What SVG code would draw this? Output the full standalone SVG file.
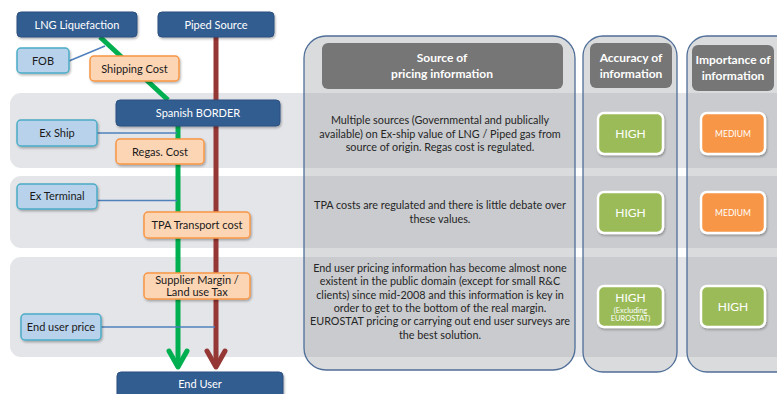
<svg xmlns="http://www.w3.org/2000/svg" width="777" height="394" viewBox="0 0 777 394">
<defs>
<filter id="sh" x="-10%" y="-20%" width="130%" height="160%">
<feDropShadow dx="1" dy="1.5" stdDeviation="1" flood-color="#000" flood-opacity="0.3"/>
</filter>
<style>
text{font-family:Lato,"Liberation Sans",sans-serif;}
.band{fill:#e3e5e9;}
.col{fill:rgb(160,162,166);fill-opacity:0.39;stroke:#4f6e98;stroke-width:1.3;}
.hdr{fill:#767676;}
.hdrt{fill:#fff;font-size:12px;font-weight:bold;text-anchor:middle;}
.dark{fill:#325d91;stroke:#2a5080;stroke-width:1;filter:url(#sh);}
.lb{fill:#b9d2ec;stroke:#4bacc6;stroke-width:1.5;filter:url(#sh);}
.pe{fill:#fcd5b5;stroke:#f79646;stroke-width:1.5;filter:url(#sh);}
.wt{fill:#fff;font-size:11px;text-anchor:middle;}
.bt{fill:#1a1a1a;font-size:11px;text-anchor:middle;}
.body{fill:#262626;font-size:10.8px;text-anchor:middle;}
.gr{fill:#9bbb59;stroke:#fff;stroke-width:2.5;filter:url(#sh);}
.or{fill:#f79646;stroke:#fff;stroke-width:2.5;filter:url(#sh);}
.bdg{fill:#fff;text-anchor:middle;}
.conn{stroke:#4f81bd;stroke-width:1.5;fill:none;}
</style>
</defs>
<rect width="777" height="394" fill="#fff"/>
<g id="bands">
<rect class="band" x="10" y="93" width="790" height="75" rx="11"/>
<rect class="band" x="10" y="176" width="790" height="72" rx="11"/>
<rect class="band" x="10" y="257" width="790" height="100" rx="11"/>
</g>
<g id="col-source">
<rect class="col" x="304" y="36" width="271" height="334" rx="22"/>
<rect class="hdr" x="322" y="43" width="241" height="46" rx="6"/>
<text class="hdrt" x="442" y="62">Source of</text>
<text class="hdrt" x="442" y="78">pricing information</text>
<text class="body" x="440" y="124">Multiple sources (Governmental and publically</text>
<text class="body" x="440" y="137.5">available) on Ex-ship value of LNG / Piped gas from</text>
<text class="body" x="440" y="151">source of origin. Regas cost is regulated.</text>
<text class="body" x="440" y="209">TPA costs are regulated and there is little debate over</text>
<text class="body" x="440" y="223">these values.</text>
<text class="body" x="440" y="272">End user pricing information has become almost none</text>
<text class="body" x="440" y="285.3">existent in the public domain (except for small R&amp;C</text>
<text class="body" x="440" y="298.6">clients) since mid-2008 and this information is key in</text>
<text class="body" x="440" y="312">order to get to the bottom of the real margin.</text>
<text class="body" x="440" y="325.3">EUROSTAT pricing or carrying out end user surveys are</text>
<text class="body" x="440" y="338.6">the best solution.</text>
</g>
<g id="col-accuracy">
<rect class="col" x="583" y="36" width="94" height="336" rx="20"/>
<rect class="hdr" x="590" y="43" width="82" height="45" rx="6"/>
<text class="hdrt" x="631" y="62">Accuracy of</text>
<text class="hdrt" x="631" y="78">information</text>
<rect class="gr" x="598" y="113" width="65" height="41" rx="6"/>
<text class="bdg" x="630.5" y="138" font-size="12">HIGH</text>
<rect class="gr" x="598" y="192" width="65" height="41" rx="6"/>
<text class="bdg" x="630.5" y="217" font-size="12">HIGH</text>
<rect class="gr" x="598" y="286" width="65" height="41" rx="6"/>
<text class="bdg" x="630.5" y="301.5" font-size="12">HIGH</text>
<text class="bdg" x="630.5" y="312.5" font-size="7.5">(Excluding</text>
<text class="bdg" x="630.5" y="321" font-size="7.5">EUROSTAT)</text>
</g>
<g id="col-importance">
<rect class="col" x="687" y="36" width="110" height="336" rx="20"/>
<rect class="hdr" x="692" y="45" width="82" height="46" rx="6"/>
<text class="hdrt" x="733" y="64">Importance of</text>
<text class="hdrt" x="733" y="80">information</text>
<rect class="or" x="701" y="113" width="64" height="41" rx="6"/>
<text class="bdg" x="733" y="136.5" font-size="8.5">MEDIUM</text>
<rect class="or" x="701" y="192" width="64" height="41" rx="6"/>
<text class="bdg" x="733" y="215.5" font-size="8.5">MEDIUM</text>
<rect class="gr" x="701" y="286" width="64" height="41" rx="6"/>
<text class="bdg" x="733" y="311" font-size="12">HIGH</text>
</g>
<g id="connectors">
<polyline points="100,37 168,100" stroke="#00b050" stroke-width="5" fill="none"/>
<line x1="178" y1="126" x2="178" y2="367" stroke="#00b050" stroke-width="5"/>
<polyline points="169,351 178,367 187,351" stroke="#00b050" stroke-width="5" fill="none" stroke-linecap="round" stroke-linejoin="round"/>
<line x1="216" y1="37" x2="216" y2="367" stroke="#953735" stroke-width="5"/>
<polyline points="207,351 216,367 225,351" stroke="#953735" stroke-width="5" fill="none" stroke-linecap="round" stroke-linejoin="round"/>
<line class="conn" x1="69" y1="61" x2="105" y2="46"/>
<line class="conn" x1="97" y1="133" x2="177" y2="133"/>
<line class="conn" x1="97" y1="200.5" x2="177" y2="200.5"/>
<line class="conn" x1="101" y1="327" x2="215" y2="327"/>
</g>
<g id="lng">
<rect class="dark" x="17" y="12" width="120" height="25" rx="4"/>
<text class="wt" x="77" y="28.5">LNG Liquefaction</text>
</g>
<g id="piped">
<rect class="dark" x="158" y="12" width="116" height="25" rx="4"/>
<text class="wt" x="216" y="28.5">Piped Source</text>
</g>
<g id="fob">
<rect class="lb" x="17" y="48" width="52" height="25" rx="4"/>
<text class="bt" x="43" y="64.5">FOB</text>
</g>
<g id="shipping">
<rect class="pe" x="90" y="56" width="89" height="25" rx="4"/>
<text class="bt" x="134.5" y="72.5">Shipping Cost</text>
</g>
<g id="border">
<rect class="dark" x="116" y="100" width="164" height="26" rx="4"/>
<text class="wt" x="198" y="117">Spanish BORDER</text>
</g>
<g id="exship">
<rect class="lb" x="17" y="120" width="80" height="26" rx="4"/>
<text class="bt" x="57" y="137">Ex Ship</text>
</g>
<g id="regas">
<rect class="pe" x="116" y="139" width="88" height="25" rx="4"/>
<text class="bt" x="160" y="155.5">Regas. Cost</text>
</g>
<g id="exterminal">
<rect class="lb" x="17" y="184" width="80" height="25" rx="4"/>
<text class="bt" x="57" y="200">Ex Terminal</text>
</g>
<g id="tpa">
<rect class="pe" x="144" y="212" width="106" height="26" rx="4"/>
<text class="bt" x="197" y="229">TPA Transport cost</text>
</g>
<g id="supplier">
<rect class="pe" x="144" y="273" width="106" height="26" rx="4"/>
<text class="bt" x="197" y="283.5">Supplier Margin /</text>
<text class="bt" x="197" y="296">Land use Tax</text>
</g>
<g id="enduserprice">
<rect class="lb" x="21" y="314" width="80" height="26" rx="4"/>
<text class="bt" x="61" y="331">End user price</text>
</g>
<g id="enduser">
<rect class="dark" x="117" y="372" width="166" height="30" rx="4"/>
<text class="wt" x="200" y="388">End User</text>
</g>
</svg>
